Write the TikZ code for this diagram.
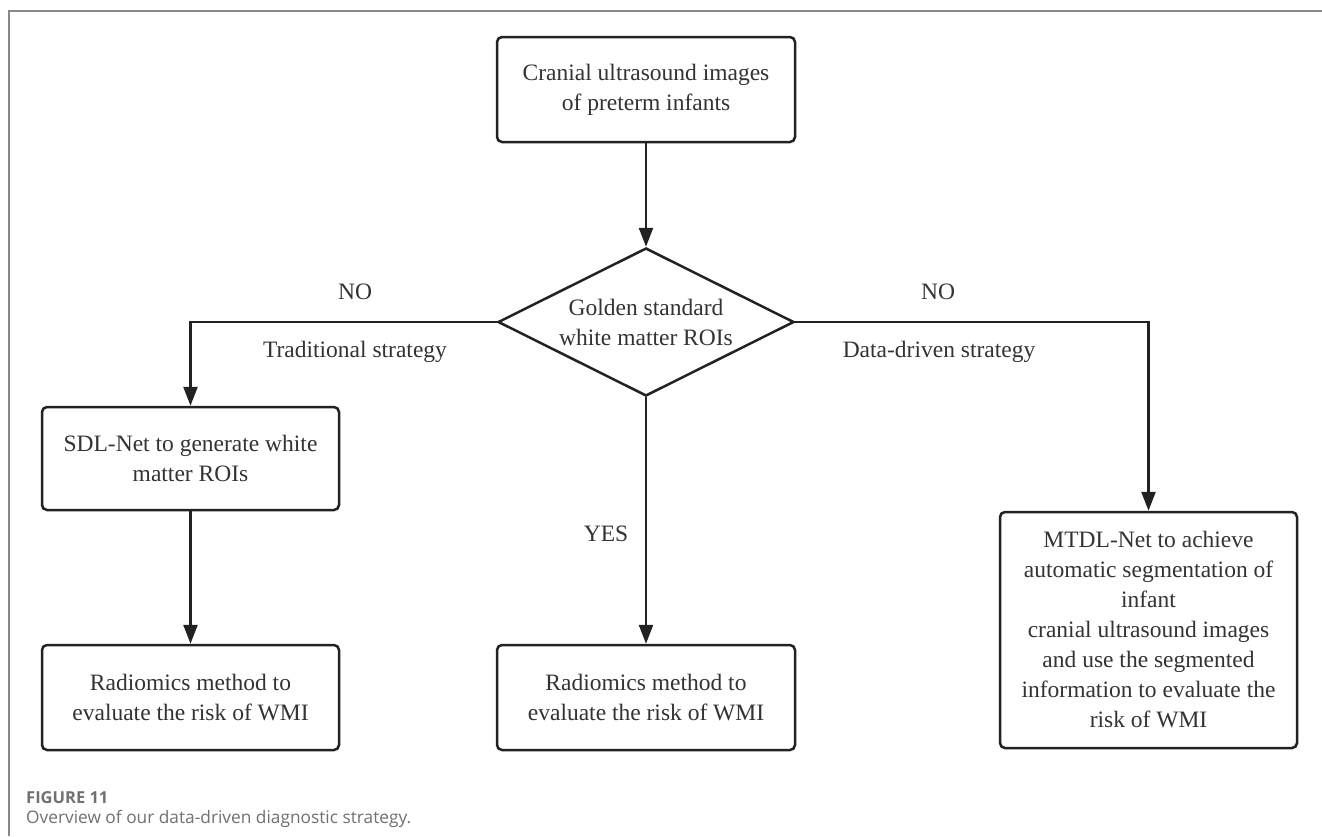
\documentclass[tikz,border=0pt]{standalone}
\usepackage{fontspec}
\setmainfont{Liberation Serif}
\newfontfamily\capfont{Open Sans}
\usetikzlibrary{arrows.meta,shapes.geometric}
\definecolor{ln}{HTML}{222222}
\definecolor{tx}{HTML}{333333}
\definecolor{fr}{HTML}{888888}
\definecolor{capc}{HTML}{707070}
\tikzset{
  box/.style={draw=ln, line width=2.5pt, rounded corners=5pt, fill=white, align=center,
    text=tx, font=\fontsize{23.5}{30}\selectfont, inner sep=0pt},
  dec/.style={draw=ln, line width=2.5pt, diamond, aspect=2, fill=white, align=center, inner sep=0pt,
    text=tx, font=\fontsize{23.5}{30}\selectfont},
  arr/.style={draw=ln, line width=2.5pt, -{Triangle[length=19pt,width=14pt]}},
  lbl/.style={text=tx, font=\fontsize{23.5}{30}\selectfont, inner sep=0pt},
  frame/.style={draw=fr, line width=2pt}
}
\begin{document}
\begin{tikzpicture}[x=1pt,y=-1pt]
\useasboundingbox (0,0) rectangle (1322,836);
\coordinate (fa) at (9,836);
\coordinate (fb) at (9,11);
\coordinate (fc) at (1322,11);
\draw[frame] (fa) -- (fb) -- (fc);

\node[box, minimum width=298pt, minimum height=105pt] (top) at (646,89.5)
  {Cranial ultrasound images\\of preterm infants};
\node[dec, minimum width=296pt, minimum height=148pt] (dia) at (646,322)
  {Golden standard\\white matter ROIs};
\node[box, minimum width=297pt, minimum height=103pt] (sdl) at (190.5,458.5)
  {SDL-Net to generate white\\matter ROIs};
\node[box, minimum width=297pt, minimum height=105pt] (rl) at (190.5,697.5)
  {Radiomics method to\\evaluate the risk of WMI};
\node[box, minimum width=298pt, minimum height=105pt] (rm) at (646,697.5)
  {Radiomics method to\\evaluate the risk of WMI};
\node[box, minimum width=297pt, minimum height=236pt] (mt) at (1148.5,630)
  {MTDL-Net to achieve\\automatic segmentation of\\infant\\cranial ultrasound images\\and use the segmented\\information to evaluate the\\risk of WMI};

\draw[arr] (top.south) -- (dia.north);
\draw[arr] (dia.west) -| (sdl.north);
\draw[arr] (sdl.south) -- (rl.north);
\draw[arr] (dia.south) -- (rm.north);
\draw[arr] (dia.east) -| (mt.north);

\node[lbl] (no1) at (355,292) {NO};
\node[lbl] (tr) at (355,352) {Traditional strategy};
\node[lbl] (no2) at (938,292) {NO};
\node[lbl] (dd) at (939,352) {Data-driven strategy};
\node[lbl] (yes) at (606,534) {YES};

\node[anchor=base west, inner sep=0pt, text=capc, font=\capfont\bfseries\fontsize{16.5}{20}\selectfont] (c1) at (26,803) {FIGURE 11};
\node[anchor=base west, inner sep=0pt, text=capc, font=\capfont\fontsize{17.3}{20}\selectfont] (c2) at (26,823) {Overview of our data-driven diagnostic strategy.};
\end{tikzpicture}
\end{document}
